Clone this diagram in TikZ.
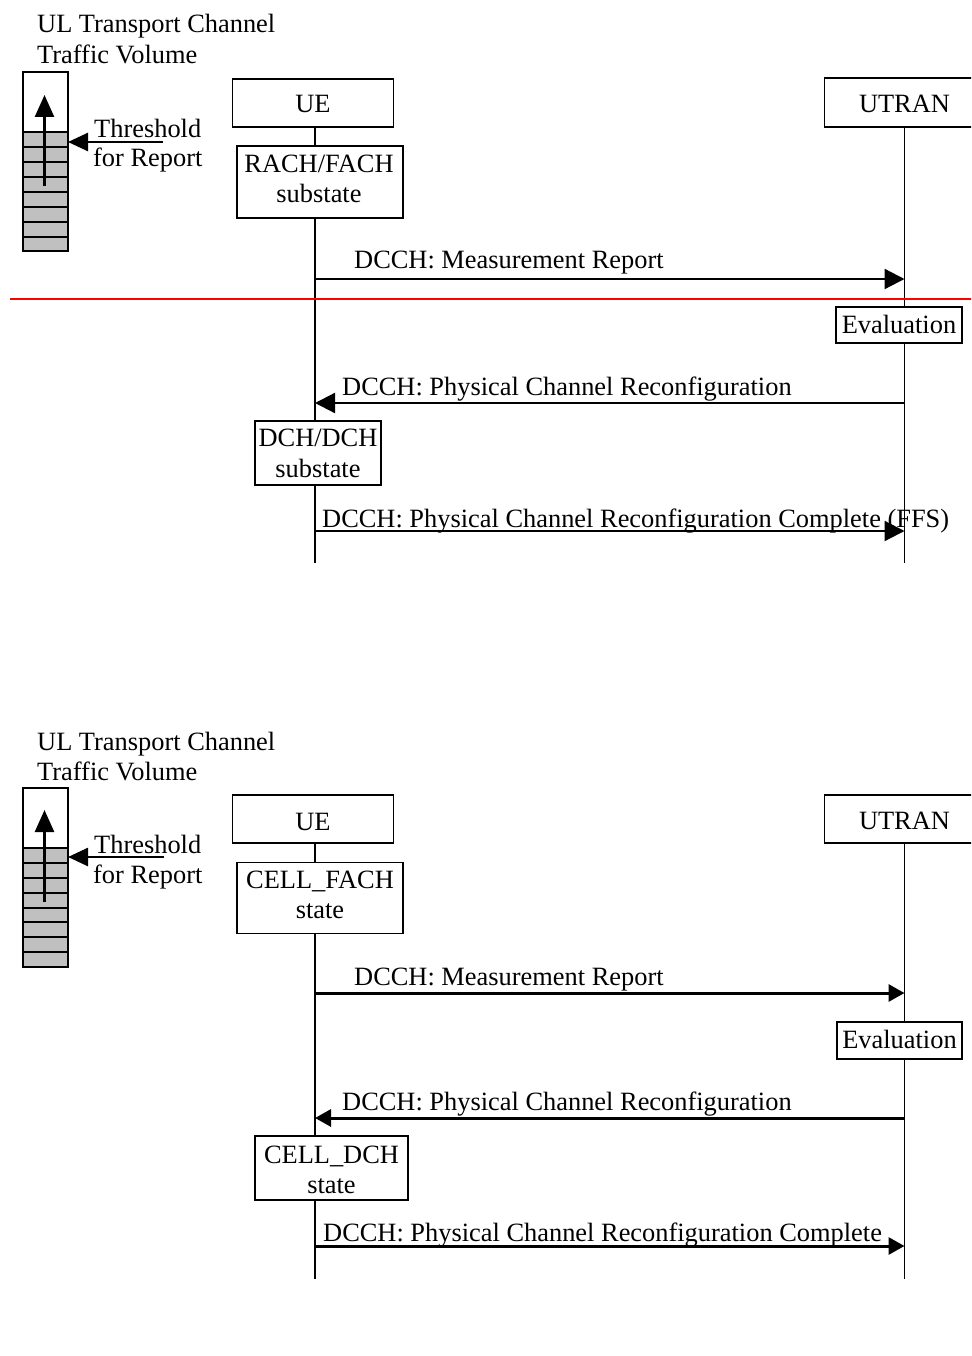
\documentclass[tikz,border=0pt]{standalone}
\usepackage{fontspec}
\setmainfont{Liberation Serif}
\usetikzlibrary{arrows.meta,backgrounds}
\definecolor{bufgray}{RGB}{192,192,192}
\tikzset{
  txt/.style={font=\fontsize{26.4}{31}\selectfont, inner sep=0pt},
  lbl/.style={txt, anchor=base west},
  ctr/.style={txt, anchor=base},
  box/.style={txt, draw, line width=1.5pt, fill=white},
  life/.style={line width=1.7pt},
  cell/.style={line width=1.5pt},
  msgA/.style={line width=2.2pt, -{Triangle[length=20pt,width=20pt]}},
  msgB/.style={line width=3pt, -{Triangle[length=16pt,width=17pt]}},
  bufarrow/.style={line width=2.6pt, -{Triangle[length=22pt,width=19pt]}},
  thrarrow/.style={line width=2.6pt, -{Triangle[length=20pt,width=18pt]}},
  redline/.style={line width=1.8pt, draw=red},
}
\begin{document}
\begin{tikzpicture}[x=1pt,y=-1pt]
\path[use as bounding box] (0,0) rectangle (971,1356);
\clip (0,0) rectangle (971,1356);
\coordinate (uex) at (315,0);

% ================= TOP DIAGRAM =================
\node[lbl] (tt1) at (37,33) {UL Transport Channel};
\node[lbl] (tt2) at (37,64) {Traffic Volume};
% buffer
\fill[bufgray] (23,132) rectangle (68,251);
\foreach \y in {132,147,162,177,192,207,222,237}
  \draw[cell] (23,\y) -- (68,\y);
\draw[cell] (23,72) rectangle (68,251);
\coordinate (bufbot1) at (44.5,186);
\coordinate (buftop1) at (44.5,95);
\draw[bufarrow] (bufbot1) -- (buftop1);
\node[lbl] (th1) at (94,138) {Threshold};
\node[lbl] (fr1) at (93,167) {for Report};
\coordinate (thr1s) at (163,142);
\coordinate (thr1e) at (68,142);
\draw[thrarrow] (thr1s) -- (thr1e);

% entities
\node[box, minimum width=161pt, minimum height=48pt, text height=20pt, text depth=0pt] (ue1) at (313,103) {UE};
\node[box, minimum width=160pt, minimum height=49pt, text height=21pt, text depth=0pt] (utran1) at (904.5,102.5) {UTRAN};
\node[box, minimum width=166pt, minimum height=72pt] (rach1) at (320,182) {};
\node[ctr] (rach1a) at (319,173) {RACH/FACH};
\node[ctr] (rach1b) at (319,203) {substate};
\node[box, minimum width=126pt, minimum height=36pt, text height=16pt, text depth=0pt] (eval1) at (899,325) {Evaluation};
\node[box, minimum width=126pt, minimum height=64pt] (dch1) at (318,453) {};
\node[ctr] (dch1a) at (318,446) {DCH/DCH};
\node[ctr] (dch1b) at (318,477) {substate};

\coordinate (ue1end) at (315,563);
\coordinate (utran1end) at (904.5,563);
\begin{scope}[on background layer]
  \draw[life] (ue1.south -| uex) -- (ue1end);
  \draw[life] (utran1.south) -- (utran1end);
\end{scope}

% messages
\coordinate (m1a) at (315,279);   \coordinate (m1b) at (904.5,279);
\coordinate (m2a) at (904.5,403); \coordinate (m2b) at (315,403);
\coordinate (m3a) at (315,531);   \coordinate (m3b) at (904.5,531);
\draw[msgA] (m1a) -- (m1b);
\node[lbl] (l1) at (354,268) {DCCH: Measurement Report};
\draw[msgA] (m2a) -- (m2b);
\node[lbl] (l2) at (342,395) {DCCH: Physical Channel Reconfiguration};
\draw[msgA] (m3a) -- (m3b);
\node[lbl] (l3) at (322,527) {DCCH: Physical Channel Reconfiguration Complete (FFS)};

\coordinate (red1) at (10,299);
\coordinate (red2) at (980,299);
\draw[redline] (red1) -- (red2);

% ================= BOTTOM DIAGRAM =================
\node[lbl] (bt1) at (37,750) {UL Transport Channel};
\node[lbl] (bt2) at (37,780) {Traffic Volume};
\fill[bufgray] (23,848) rectangle (68,967);
\foreach \y in {848,863,878,893,908,922,937,952}
  \draw[cell] (23,\y) -- (68,\y);
\draw[cell] (23,788) rectangle (68,967);
\coordinate (bufbot2) at (44.5,902);
\coordinate (buftop2) at (44.5,810);
\draw[bufarrow] (bufbot2) -- (buftop2);
\node[lbl] (th2) at (94,853) {Threshold};
\node[lbl] (fr2) at (93,883) {for Report};
\coordinate (thr2s) at (164,857);
\coordinate (thr2e) at (68,857);
\draw[thrarrow] (thr2s) -- (thr2e);

\node[box, minimum width=161pt, minimum height=48pt, text height=22pt, text depth=0pt] (ue2) at (313,819) {UE};
\node[box, minimum width=160pt, minimum height=48pt, text height=20pt, text depth=0pt] (utran2) at (904.5,819) {UTRAN};
\node[box, minimum width=166pt, minimum height=71pt] (cfach2) at (320,898) {};
\node[ctr] (cfach2a) at (320,888) {CELL\_FACH};
\node[ctr] (cfach2b) at (320,918) {state};
\node[box, minimum width=125pt, minimum height=37pt, text height=15pt, text depth=0pt] (eval2) at (899.5,1040.5) {Evaluation};
\node[box, minimum width=153pt, minimum height=64pt] (cdch2) at (331.5,1168) {};
\node[ctr] (cdch2a) at (331.5,1163) {CELL\_DCH};
\node[ctr] (cdch2b) at (331.5,1193) {state};

\coordinate (ue2end) at (315,1279);
\coordinate (utran2end) at (904.5,1279);
\begin{scope}[on background layer]
  \draw[life] (ue2.south -| uex) -- (ue2end);
  \draw[life] (utran2.south) -- (utran2end);
\end{scope}

\coordinate (n1a) at (315,993);    \coordinate (n1b) at (904.5,993);
\coordinate (n2a) at (904.5,1118); \coordinate (n2b) at (315,1118);
\coordinate (n3a) at (315,1246);   \coordinate (n3b) at (904.5,1246);
\draw[msgB] (n1a) -- (n1b);
\node[lbl] (k1) at (354,985) {DCCH: Measurement Report};
\draw[msgB] (n2a) -- (n2b);
\node[lbl] (k2) at (342,1110) {DCCH: Physical Channel Reconfiguration};
\draw[msgB] (n3a) -- (n3b);
\node[lbl] (k3) at (323,1241) {DCCH: Physical Channel Reconfiguration Complete};
\end{tikzpicture}
\end{document}
